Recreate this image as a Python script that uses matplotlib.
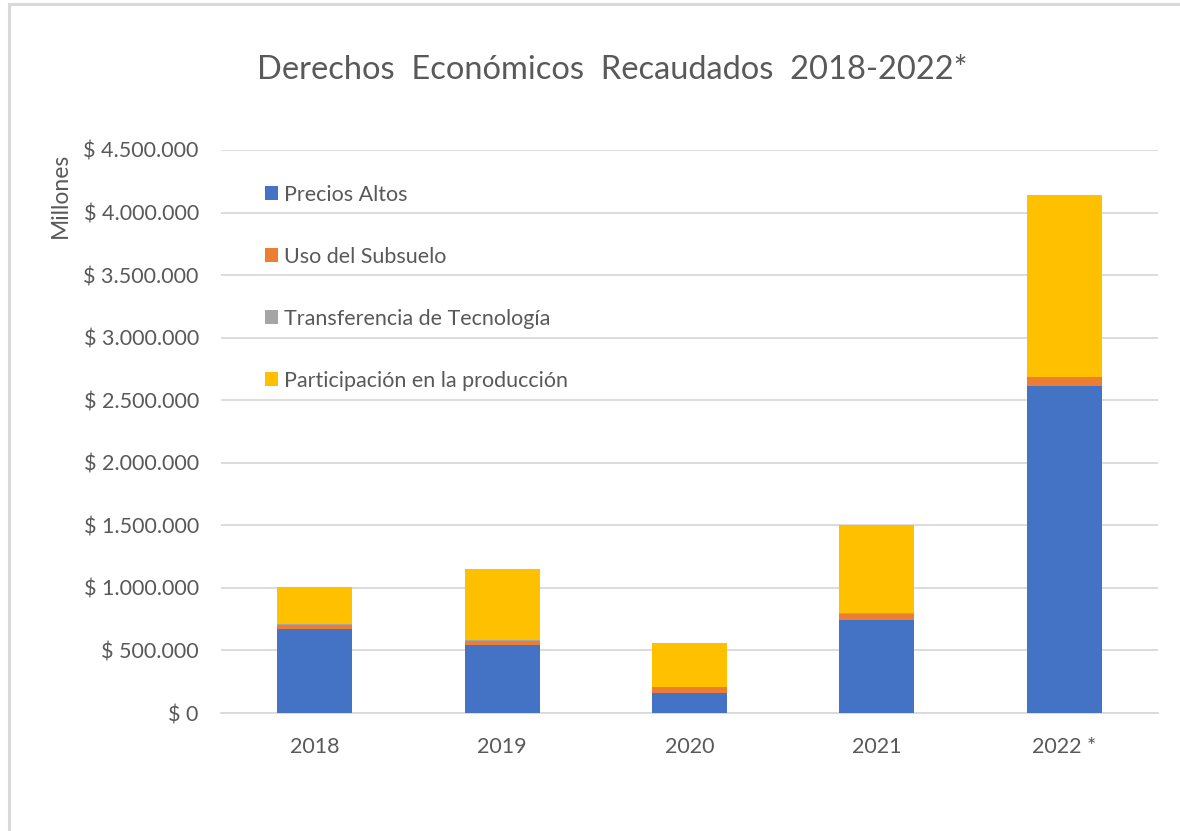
import matplotlib.pyplot as plt
from matplotlib.ticker import FuncFormatter, MultipleLocator
from matplotlib.patches import Rectangle
import numpy as np

# Datos (millones de pesos)
years = ['2018', '2019', '2020', '2021', '2022 *']
precios_altos = [673000, 540000, 162000, 745000, 2614000]
uso_subsuelo = [29000, 32000, 42000, 50000, 71000]
transferencia = [12000, 10000, 2000, 5000, 3000]
participacion = [296000, 570000, 353000, 700000, 1449000]

series = [
    ('Precios Altos', precios_altos, '#4472C4'),
    ('Uso del Subsuelo', uso_subsuelo, '#ED7D31'),
    ('Transferencia de Tecnología', transferencia, '#A5A5A5'),
    ('Participación en la producción', participacion, '#FFC000'),
]

TEXT = '#595959'
GRID = '#D9D9D9'

plt.rcParams['font.family'] = ['Lato', 'DejaVu Sans']

fig = plt.figure(figsize=(11.8, 8.31), dpi=100)
ax = fig.add_axes([221 / 1180, 1 - 713 / 831, 937 / 1180, 563 / 831])

# marco del gráfico (solo se ven borde izquierdo y superior)
fig.patches.append(Rectangle((9 / 1180, -0.1), 1.2, 1.1 - 4 / 831,
                             transform=fig.transFigure, fill=False,
                             edgecolor=GRID, linewidth=2.2))

x = np.arange(len(years))
bottom = np.zeros(len(years))
for name, vals, color in series:
    ax.bar(x, vals, width=0.4, bottom=bottom, color=color, label=name, zorder=3)
    bottom += np.array(vals)

ax.set_xlim(-0.5, len(years) - 0.5)
ax.set_ylim(0, 4500000)
ax.yaxis.set_major_locator(MultipleLocator(500000))
ax.yaxis.set_major_formatter(FuncFormatter(lambda v, p: '$ ' + f'{int(v):,}'.replace(',', '.')))
ax.grid(axis='y', color=GRID, linewidth=1.3, zorder=0)
ax.set_axisbelow(True)

for s in ['top', 'right', 'left']:
    ax.spines[s].set_visible(False)
ax.spines['bottom'].set_color(GRID)
ax.spines['bottom'].set_linewidth(1.3)

ax.set_xticks(x)
ax.set_xticklabels(years)
ax.tick_params(axis='both', length=0, colors=TEXT, labelsize=15.5)
ax.tick_params(axis='x', pad=17)
ax.tick_params(axis='y', pad=16)

fig.text(612 / 1180, 1 - 70 / 831, 'Derechos  Económicos  Recaudados  2018-2022*',
         ha='center', va='center', fontsize=23.5, color=TEXT)
fig.text(60 / 1180, 1 - 195 / 831, 'Millones', rotation=90,
         ha='center', va='center', fontsize=16.5, color=TEXT)

leg = ax.legend(loc='upper left', bbox_to_anchor=(0.026, 0.973), frameon=False,
                fontsize=15.5, labelcolor=TEXT, handlelength=0.6, handleheight=0.6,
                handletextpad=0.3, labelspacing=1.95)

fig.savefig('out.png', dpi=100, facecolor='white')
